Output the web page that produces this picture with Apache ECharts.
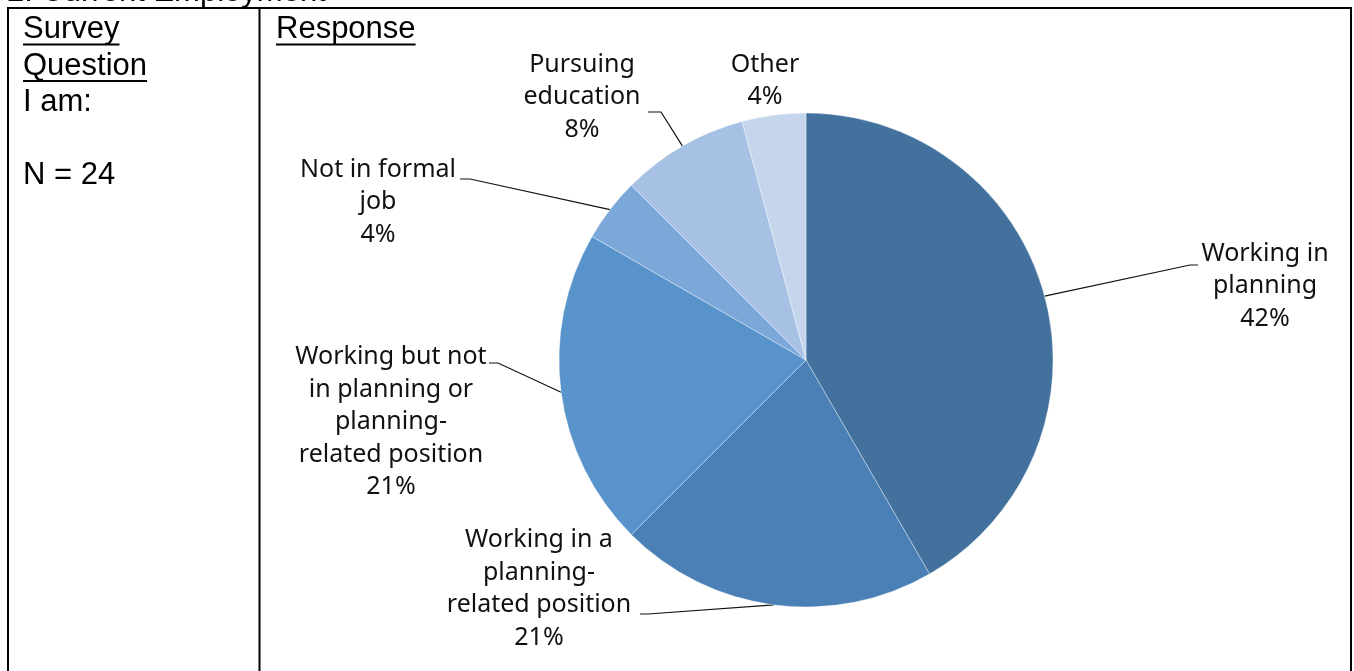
<!DOCTYPE html>
<html>
<head>
<meta charset="utf-8">
<script src="https://cdn.jsdelivr.net/npm/echarts@6/dist/echarts.min.js"></script>
<style>
html,body{margin:0;padding:0;background:#fff;}
#main{width:1354px;height:671px;}
</style>
</head>
<body>
<div id="main"></div>
<script>
// ---- data ----
var categories = [
  'Working in\nplanning',
  'Working in a\nplanning-\nrelated position',
  'Working but not\nin planning or\nplanning-\nrelated position',
  'Not in formal\njob',
  'Pursuing\neducation',
  'Other'
];
var counts = [10, 5, 5, 1, 2, 1]; // N = 24
var sliceColors = ['#43719d', '#4b80b6', '#5894cb', '#7ba8d8', '#a6c1e4', '#c5d6ec'];
var titleText = '2. Current Employment';
var leftColumnLines = ['Survey', 'Question', 'I am:', '', 'N = 24'];
var headerRight = 'Response';

// ---- label placement (label centre, end of leader line) ----
var labelSpots = [
  {cx: 1265, cy: 286, elbow: [1190, 265], end: [1198, 265]},
  {cx: 539,  cy: 589, elbow: [648, 614],  end: [640, 614]},
  {cx: 391,  cy: 422, elbow: [498, 363],  end: [489, 363]},
  {cx: 378,  cy: 202, elbow: [470, 179],  end: [460, 179]},
  {cx: 582,  cy: 97,  elbow: [661, 112],  end: [648, 112]},
  {cx: 765,  cy: 81,  elbow: null, end: null}
];

var chart = echarts.init(document.getElementById('main'), null, {renderer: 'canvas'});

var tableFont = '31px "Liberation Sans", Arial, sans-serif';
var measureCtx = document.createElement('canvas').getContext('2d');
measureCtx.font = tableFont;
function tw(s){ return measureCtx.measureText(s).width; }

var graphics = [];
function addText(s, x, baseline, underline){
  graphics.push({type:'text', x:x, y:baseline - 11, silent:true,
    style:{text:s, font:tableFont, fill:'#000', verticalAlign:'middle', align:'left'}});
  if (underline){
    graphics.push({type:'rect', silent:true, shape:{x:x, y:baseline + 3, width:tw(s), height:2}, style:{fill:'#000'}});
  }
}
addText(titleText, 7, 3.5, false);
var bl = 40.5;
leftColumnLines.forEach(function(s, i){
  if (s) addText(s, 23, bl + i * 36.5, i < 2);
});
addText(headerRight, 276, 40.5, true);
// table borders
var lineStyle = {stroke:'#000', lineWidth:2};
graphics.push({type:'line', silent:true, shape:{x1:7, y1:8, x2:1352, y2:8}, style:lineStyle});
graphics.push({type:'line', silent:true, shape:{x1:8, y1:7, x2:8, y2:680}, style:lineStyle});
graphics.push({type:'line', silent:true, shape:{x1:259.5, y1:8, x2:259.5, y2:680}, style:lineStyle});
graphics.push({type:'line', silent:true, shape:{x1:1351, y1:7, x2:1351, y2:680}, style:lineStyle});

var pieData = categories.map(function(c, i){
  var d = {name: c, value: counts[i], itemStyle: {color: sliceColors[i]}};
  if (!labelSpots[i].elbow) d.labelLine = {show: false};
  return d;
});

chart.setOption({
  animation: false,
  graphic: graphics,
  series: [{
    type: 'pie',
    center: [806, 360],
    radius: 247,
    startAngle: 90,
    clockwise: true,
    avoidLabelOverlap: false,
    percentPrecision: 0,
    data: pieData,
    itemStyle: {borderColor: 'rgba(255,255,255,0.35)', borderWidth: 1},
    emphasis: {disabled: true},
    label: {
      show: true,
      position: 'outside',
      formatter: '{b}\n{d}%',
      fontFamily: '"Noto Sans", sans-serif',
      fontSize: 25,
      lineHeight: 32.5,
      color: '#111',
      align: 'center'
    },
    labelLine: {show: true, length: 20, length2: 10, lineStyle: {color: '#111', width: 1.2}},
    labelLayout: function(params){
      var s = labelSpots[params.dataIndex];
      var out = {x: s.cx, y: s.cy, align: 'center', verticalAlign: 'middle'};
      if (s.elbow && params.labelLinePoints){
        var a = params.labelLinePoints[0];
        out.labelLinePoints = [[a[0], a[1]], s.elbow, s.end];
      }
      return out;
    }
  }]
});
</script>
</body>
</html>
